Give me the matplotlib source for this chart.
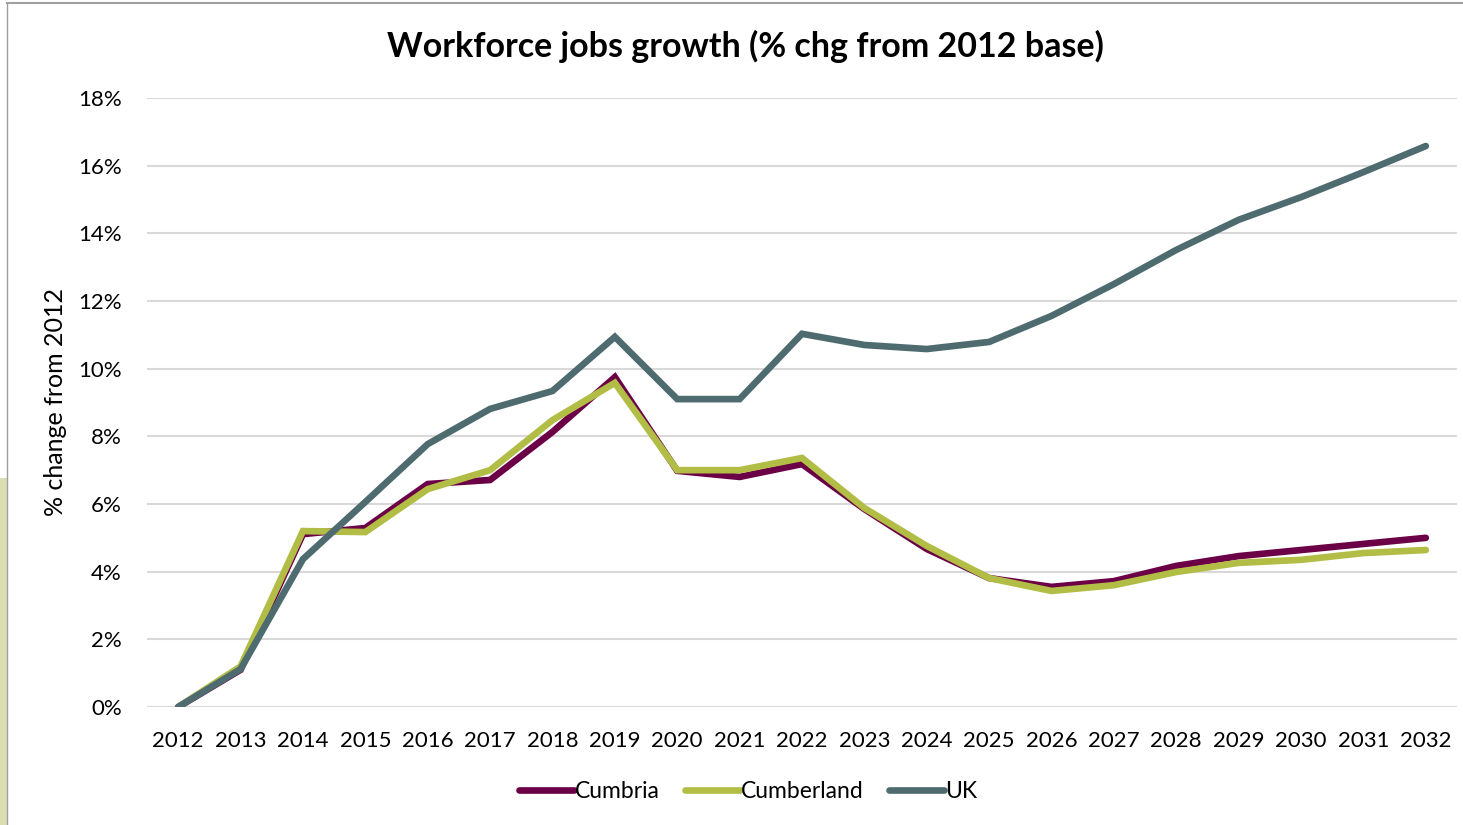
import matplotlib.pyplot as plt
from matplotlib.patches import Rectangle
from matplotlib.lines import Line2D
from matplotlib.ticker import FuncFormatter

years = [str(y) for y in range(2012, 2033)]
cumbria = [0.0, 1.1, 5.11, 5.29, 6.59, 6.71, 8.13, 9.75, 6.98, 6.80, 7.18,
           5.85, 4.67, 3.81, 3.55, 3.72, 4.17, 4.46, 4.64, 4.82, 5.00]
cumberland = [0.0, 1.2, 5.20, 5.17, 6.44, 7.00, 8.48, 9.58, 7.00, 7.00, 7.36,
              5.88, 4.76, 3.81, 3.43, 3.60, 3.99, 4.26, 4.35, 4.55, 4.64]
uk = [0.0, 1.12, 4.37, 6.06, 7.77, 8.81, 9.34, 10.94, 9.10, 9.10, 11.03,
      10.70, 10.58, 10.79, 11.56, 12.50, 13.51, 14.40, 15.07, 15.81, 16.58]

series = [("Cumbria", cumbria, "#6B0046"),
          ("Cumberland", cumberland, "#B2BD45"),
          ("UK", uk, "#4E6B70")]

plt.rcParams['font.family'] = ['Lato', 'DejaVu Sans']

fig = plt.figure(figsize=(14.63, 8.25), dpi=100)
ax = fig.add_axes([147/1463, 1 - 707/825, 1310/1463, 609/825])

x = list(range(len(years)))
for name, vals, col in series:
    ax.plot(x, vals, color=col, lw=4.8, solid_capstyle='round',
            solid_joinstyle='miter', label=name, zorder=3)

ax.set_xlim(-0.5, len(years) - 0.5)
ax.set_ylim(0, 18)
ax.set_yticks(range(0, 19, 2))
ax.yaxis.set_major_formatter(FuncFormatter(lambda v, p: f"{int(v)}%"))
ax.set_xticks(x)
ax.set_xticklabels(years)
ax.tick_params(length=0, labelsize=16, colors='#000000')
ax.tick_params(axis='y', pad=18)
ax.tick_params(axis='x', pad=17)
ax.grid(axis='y', color='#D9D9D9', lw=1.5)
ax.set_axisbelow(True)
for s in ax.spines.values():
    s.set_visible(False)

ax.set_ylabel("% change from 2012", fontsize=18, labelpad=8)
fig.text(745/1463, 1 - 46/825, "Workforce jobs growth (% chg from 2012 base)",
         ha='center', va='center', fontsize=24.5, fontweight='bold')

handles = [Line2D([0], [0], color=c, lw=4.8, solid_capstyle='round') for _, _, c in series]
fig.legend(handles, [n for n, _, _ in series], loc='center', ncol=3,
           bbox_to_anchor=(748/1463, 1 - 792/825), frameon=False, fontsize=16.5,
           handlelength=2.4, handletextpad=0.05, columnspacing=1.1)

# screenshot frame bits
fig.add_artist(Rectangle((0, 0), 7/1463, 347/825, transform=fig.transFigure,
                         facecolor='#DCDDB0', edgecolor='none'))
fig.add_artist(Line2D([7/1463, 7/1463], [0, 1 - 3/825], transform=fig.transFigure,
                      color='#A0A0A0', lw=1))
fig.add_artist(Line2D([7/1463, 1], [1 - 3/825, 1 - 3/825], transform=fig.transFigure,
                      color='#A0A0A0', lw=1.5))

fig.savefig("out.png", dpi=100)
